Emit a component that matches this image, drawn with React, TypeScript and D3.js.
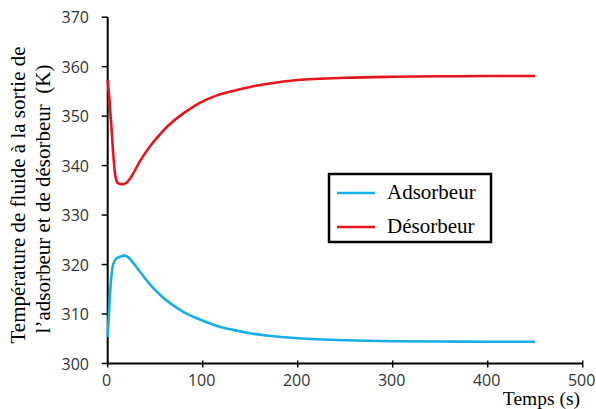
import React from "react";
import * as d3 from "d3";

const xTicks = [0, 100, 200, 300, 400, 500];
const yTicks = [300, 310, 320, 330, 340, 350, 360, 370];

const tDes = [0, 2, 4, 6, 8, 10, 13, 17, 20, 24, 28, 35, 45, 55, 65, 80, 97, 115, 132, 150, 167, 200, 250, 300, 350, 400, 450];
const vDes = [357.3, 353.0, 347.5, 342.0, 338.0, 336.6, 336.3, 336.3, 336.6, 337.5, 338.8, 341.2, 344.0, 346.3, 348.3, 350.6, 352.7, 354.2, 355.1, 355.9, 356.5, 357.3, 357.75, 357.95, 358.05, 358.1, 358.1];

const tAds = [0, 2, 4, 6, 9, 13, 18, 22, 27, 35, 45, 55, 65, 80, 97, 115, 132, 150, 167, 200, 250, 300, 350, 400, 450];
const vAds = [305.3, 312.5, 317.8, 320.2, 321.2, 321.6, 321.8, 321.4, 320.3, 318.3, 315.9, 313.9, 312.3, 310.4, 308.9, 307.6, 306.8, 306.1, 305.65, 305.1, 304.7, 304.5, 304.45, 304.4, 304.4];

const seriesNames = ["Adsorbeur", "Désorbeur"];
const colors = ["#14aee8", "#e8141c"];

export default function App() {
  const W = 596, H = 409;
  const x = d3.scaleLinear().domain([0, 500]).range([107.7, 582.7]);
  const y = d3.scaleLinear().domain([300, 370]).range([363.5, 17.2]);
  const line = d3
    .line<[number, number]>()
    .x((d) => x(d[0]))
    .y((d) => y(d[1]))
    .curve(d3.curveCatmullRom.alpha(0.5));
  const ads = line(tAds.map((t, i) => [t, vAds[i]] as [number, number])) || "";
  const des = line(tDes.map((t, i) => [t, vDes[i]] as [number, number])) || "";
  const tickFont = "'Open Sans', sans-serif";
  const serif = "'Liberation Serif', 'Times New Roman', serif";
  return (
    <svg width={W} height={H} style={{ position: "absolute", left: 0, top: 0, background: "#fff" }}>
      {/* axes */}
      <line x1={x(0)} x2={x(0)} y1={y(370)} y2={y(300)} stroke="#000" strokeWidth={2} />
      <line x1={x(0)} x2={x(500)} y1={y(300)} y2={y(300)} stroke="#000" strokeWidth={2} />
      {yTicks.map((v) => (
        <g key={"y" + v}>
          <line x1={x(0) - 6} x2={x(0)} y1={y(v)} y2={y(v)} stroke="#000" strokeWidth={1.5} />
          <text x={89} y={y(v) + 6} textAnchor="end" fontFamily={tickFont} fontSize={16} fill="#333">
            {v}
          </text>
        </g>
      ))}
      {xTicks.map((v) => (
        <g key={"x" + v}>
          <line x1={x(v)} x2={x(v)} y1={y(300) - 3} y2={y(300) + 4} stroke="#000" strokeWidth={1.5} />
          <text x={x(v) - 1} y={386} textAnchor="middle" fontFamily={tickFont} fontSize={16} fill="#333">
            {v}
          </text>
        </g>
      ))}
      <text x={580} y={404.5} textAnchor="end" fontFamily={serif} fontSize={19.5} fill="#000">
        Temps (s)
      </text>
      <text transform="translate(25,195) rotate(-90)" textAnchor="middle" fontFamily={serif} fontSize={21} fill="#000">
        Température de fluide à la sortie de
      </text>
      <text transform="translate(50,199) rotate(-90)" textAnchor="middle" fontFamily={serif} fontSize={21} fill="#000" style={{ whiteSpace: "pre" }}>
        l’adsorbeur et de désorbeur  (K)
      </text>
      {/* series */}
      <path d={ads} fill="none" stroke={colors[0]} strokeWidth={2.6} strokeLinejoin="round" />
      <path d={des} fill="none" stroke={colors[1]} strokeWidth={2.6} strokeLinejoin="round" />
      {/* legend */}
      <rect x={329} y={174} width={162} height={68} fill="#fff" stroke="#000" strokeWidth={2.5} />
      {seriesNames.map((n, i) => (
        <g key={n}>
          <line x1={337} x2={375} y1={193 + i * 34} y2={193 + i * 34} stroke={colors[i]} strokeWidth={2.6} />
          <text x={387} y={199 + i * 34} fontFamily={serif} fontSize={21} fill="#000">
            {n}
          </text>
        </g>
      ))}
    </svg>
  );
}
